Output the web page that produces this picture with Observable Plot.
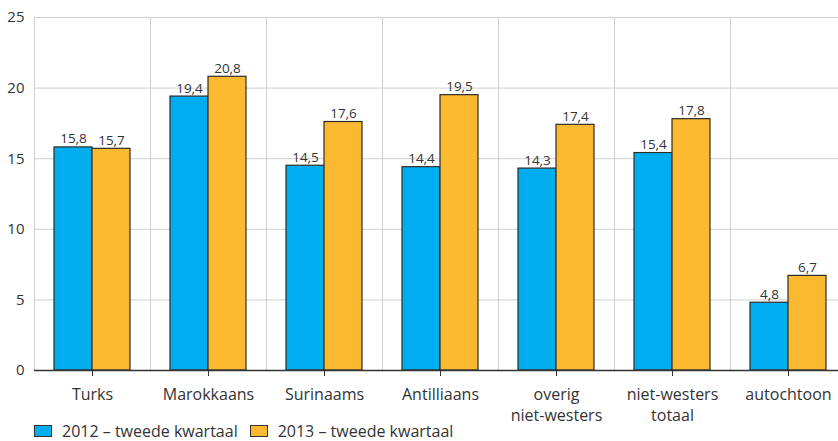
<!DOCTYPE html>
<html>
<head>
<meta charset="utf-8">
<script src="https://cdn.jsdelivr.net/npm/d3@7"></script>
<script src="https://cdn.jsdelivr.net/npm/@observablehq/plot@0.6"></script>
<style>
  html, body { margin: 0; padding: 0; background: #fff; }
  body { position: relative; width: 838px; height: 441px; overflow: hidden; font-family: "Open Sans", sans-serif; color: #333; }
  #legend { position: absolute; left: 0; top: 422px; display: flex; align-items: center; height: 18px; line-height: 18px; padding-left: 34px; font-size: 16px; color: #333; }
  .sw { width: 18px; height: 12px; border: 1px solid #333; margin-right: 10px; box-sizing: border-box; }
  .item { display: flex; align-items: center; margin-right: 12px; }
</style>
</head>
<body>
<div id="chart"></div>
<div id="legend"></div>
<script>
const categories = ["Turks", "Marokkaans", "Surinaams", "Antilliaans", "overig niet-westers", "niet-westers totaal", "autochtoon"];
const categoryLabels = ["Turks", "Marokkaans", "Surinaams", "Antilliaans", "overig\nniet-westers", "niet-westers\ntotaal", "autochtoon"];
const seriesNames = ["2012 – tweede kwartaal", "2013 – tweede kwartaal"];
const values2012 = [15.8, 19.4, 14.5, 14.4, 14.3, 15.4, 4.8];
const values2013 = [15.7, 20.8, 17.6, 19.5, 17.4, 17.8, 6.7];
const seriesColors = ["#00AEEF", "#FBB92F"];
const yTicks = [0, 5, 10, 15, 20, 25];

const data = [];
categories.forEach((c, i) => {
  data.push({cat: c, series: seriesNames[0], value: values2012[i]});
  data.push({cat: c, series: seriesNames[1], value: values2013[i]});
});
const labelOf = new Map(categories.map((c, i) => [c, categoryLabels[i]]));
const fmt = v => v.toFixed(1).replace(".", ",");

const chart = Plot.plot({
  width: 838,
  height: 425,
  marginTop: 17,
  marginBottom: 55,
  marginLeft: 34,
  marginRight: -8,
  style: {fontFamily: "Open Sans, sans-serif", fontSize: "15px", color: "#333", background: "transparent"},
  fx: {domain: categories, padding: 0, axis: null},
  x: {domain: seriesNames, padding: 0, paddingOuter: 0.506, axis: null},
  y: {domain: [0, 25], axis: null},
  color: {domain: seriesNames, range: seriesColors},
  marks: [
    Plot.gridY(yTicks.slice(1), {stroke: "#d0d0d0", strokeOpacity: 1}),
    Plot.frame({anchor: "left", stroke: "#d0d0d0", strokeOpacity: 1}),
    Plot.axisY(yTicks, {tickSize: 0, tickPadding: 10, fontSize: 15, label: null, facetAnchor: "left", fill: "#333"}),
    Plot.barY(data, {fx: "cat", x: "series", y: "value", fill: "series", stroke: "#2b2b2b", strokeWidth: 1.2}),
    Plot.ruleY([0], {stroke: "#333", strokeWidth: 1.5}),
    Plot.text(data, {fx: "cat", x: "series", y: "value", text: d => fmt(d.value), dy: -4, lineAnchor: "bottom", fontSize: 13.5, fill: "#333"}),
    Plot.axisFx({anchor: "bottom", tickSize: 6, tickPadding: 8, label: null, fontSize: 16, lineHeight: 1.35, tickFormat: c => labelOf.get(c), stroke: "#333", fill: "#333"})
  ]
});
document.getElementById("chart").appendChild(chart);

const legend = document.getElementById("legend");
seriesNames.forEach((s, i) => {
  const item = document.createElement("div");
  item.className = "item";
  const sw = document.createElement("div");
  sw.className = "sw";
  sw.style.background = seriesColors[i];
  const t = document.createElement("span");
  t.textContent = s;
  item.appendChild(sw);
  item.appendChild(t);
  legend.appendChild(item);
});
</script>
</body>
</html>
